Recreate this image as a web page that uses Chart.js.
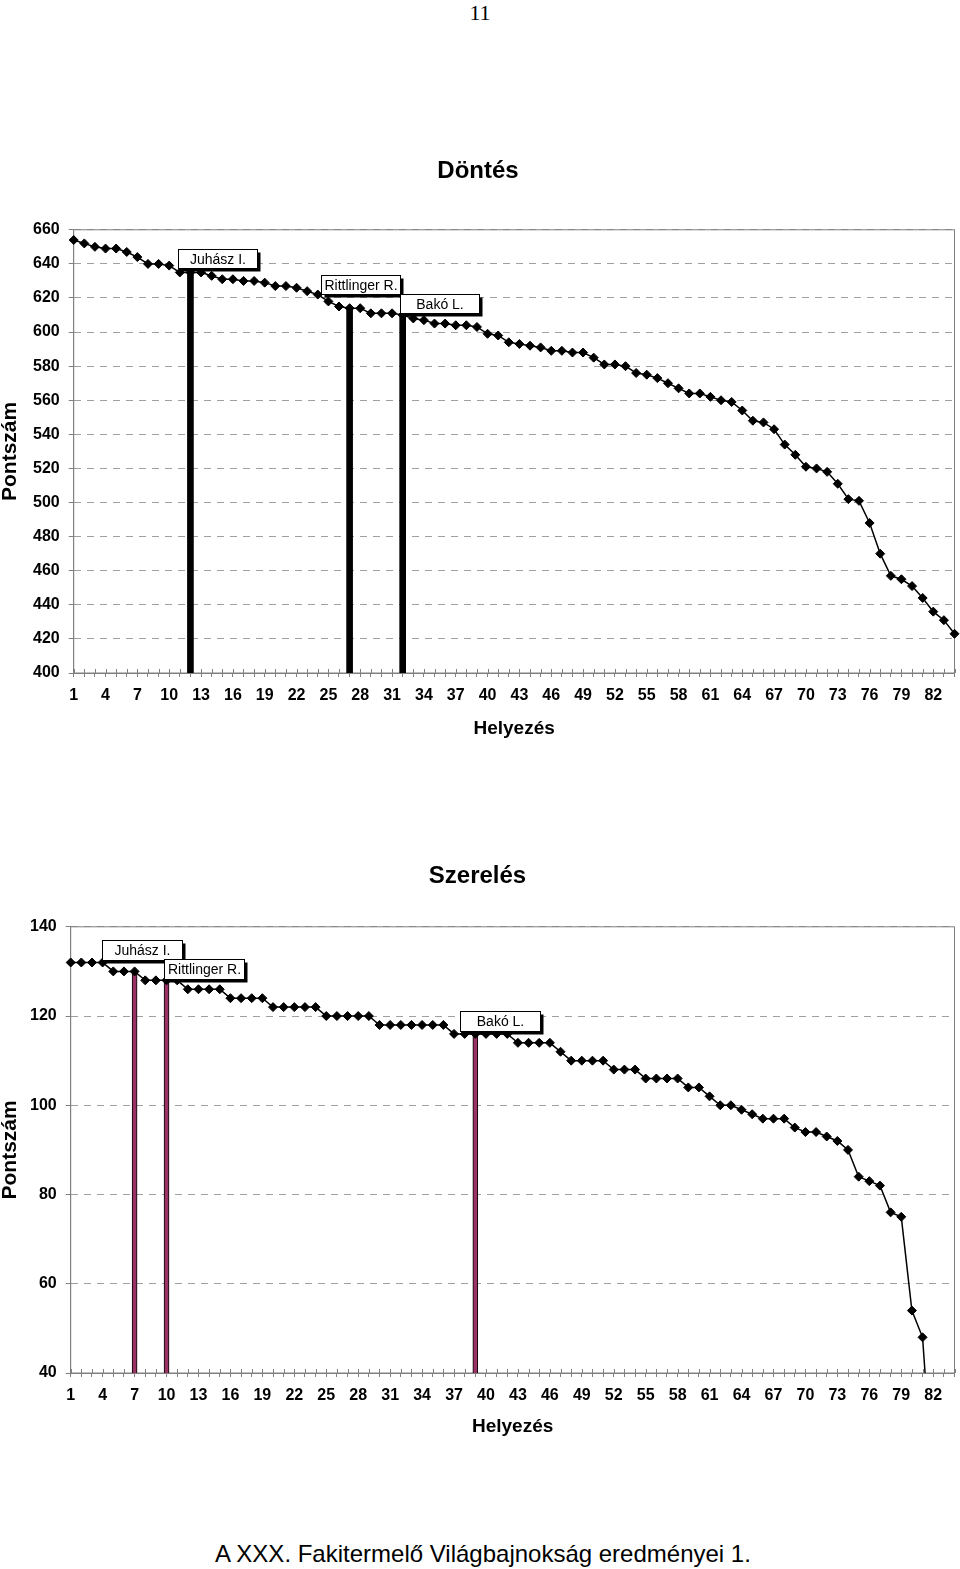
<!DOCTYPE html>
<html>
<head>
<meta charset="utf-8">
<title>Döntés / Szerelés</title>
<script src="https://cdn.jsdelivr.net/npm/chart.js@4.4.1/dist/chart.umd.min.js"></script>
<style>
    body { margin: 0; width: 960px; height: 1569px; background: #fff; position: relative; overflow: hidden; }
    .page-num { position: absolute; top: 2px; left: 0; width: 960px; text-align: center; font: 22px/22px "Liberation Serif", "Times New Roman", serif; }
    .box { position: absolute; left: 0; width: 960px; }
    #box1 { top: 140px; height: 610px; }
    #box2 { top: 845px; height: 605px; }
    .footer { position: absolute; top: 1542px; left: 215px; font: 24px/24px "Liberation Sans", Arial, sans-serif; white-space: nowrap; }
</style>
</head>
<body>
<div class="page-num">11</div>
<div class="box" id="box1"><canvas id="dontes"></canvas></div>
<div class="box" id="box2"><canvas id="szereles"></canvas></div>
<div class="footer">A XXX. Fakitermelő Világbajnokság eredményei 1.</div>

<script>
// helyezések (kategóriák)
const helyezes = ['1','2','3','4','5','6','7','8','9','10','11','12','13','14','15','16','17','18','19','20',
    '21','22','23','24','25','26','27','28','29','30','31','32','33','34','35','36','37','38','39','40',
    '41','42','43','44','45','46','47','48','49','50','51','52','53','54','55','56','57','58','59','60',
    '61','62','63','64','65','66','67','68','69','70','71','72','73','74','75','76','77','78','79','80',
    '81','82','83','84'];
// csak ezek a feliratok látszanak az x tengelyen
const xFeliratok = ['1','4','7','10','13','16','19','22','25','28','31','34','37','40','43','46','49','52','55','58','61','64','67','70','73','76','79','82'];

const dontesPont = [654, 652, 650, 649, 649, 647, 644, 640, 640, 639,
    635, 635, 635, 633, 631, 631, 630, 630, 629, 627,
    627, 626, 624, 622, 618, 615, 614, 614, 611, 611,
    611, 610, 608, 607, 605, 605, 604, 604, 603, 599,
    598, 594, 593, 592, 591, 589, 589, 588, 588, 585,
    581, 581, 580, 576, 575, 573, 570, 567, 564, 564,
    562, 560, 559, 554, 548, 547, 543, 534, 528, 521,
    520, 518, 511, 502, 501, 488, 470, 457, 455, 451,
    444, 436, 431, 423];

const szerelesPont = [132, 132, 132, 132, 130, 130, 130, 128, 128, 128,
    128, 126, 126, 126, 126, 124, 124, 124, 124, 122,
    122, 122, 122, 122, 120, 120, 120, 120, 120, 118,
    118, 118, 118, 118, 118, 118, 116, 116, 116, 116,
    116, 116, 114, 114, 114, 114, 112, 110, 110, 110,
    110, 108, 108, 108, 106, 106, 106, 106, 104, 104,
    102, 100, 100, 99, 98, 97, 97, 97, 95, 94,
    94, 93, 92, 90, 84, 83, 82, 76, 75, 54,
    48, 14, null, null];

const nevek = ['Juhász I.', 'Rittlinger R.', 'Bakó L.'];
const dontesHely = [12, 27, 32];
const szerelesHely = [7, 10, 39];

const yTickDontes = [400, 660, 20];   // min, max, lépés
const yTickSzereles = [40, 140, 20];

const FONT = "'Liberation Sans', Arial, sans-serif";
Chart.defaults.color = '#000';
Chart.defaults.font.family = FONT;

// oszlop adatok a kiemelt versenyzőkhöz
function oszlopok(pont, hely) {
    const arr = helyezes.map(() => null);
    hely.forEach(h => { arr[h - 1] = pont[h - 1]; });
    return arr;
}

// keret + kereszt osztásjelek az x tengelyen
const keretPlugin = {
    id: 'keret',
    beforeDatasetsDraw(chart) {
        const {ctx, chartArea: a} = chart;
        const xs = chart.scales.x;
        ctx.save();
        ctx.strokeStyle = '#808080';
        ctx.lineWidth = 1;
        ctx.strokeRect(a.left, a.top, a.right - a.left, a.bottom - a.top);
        ctx.beginPath();
        for (let i = 0; i < helyezes.length; i++) {
            const x = Math.round(xs.getPixelForTick(i)) + 0.5;
            ctx.moveTo(x, a.bottom - 4);
            ctx.lineTo(x, a.bottom);
        }
        ctx.stroke();
        ctx.restore();
    }
};

// név címkék dobozban, árnyékkal
const cimkePlugin = {
    id: 'cimkek',
    afterDatasetsDraw(chart, args, opts) {
        const {ctx} = chart;
        const meta = chart.getDatasetMeta(1);
        ctx.save();
        ctx.font = '14px ' + FONT;
        ctx.textAlign = 'center';
        ctx.textBaseline = 'middle';
        opts.hely.forEach((h, i) => {
            const el = meta.data[h - 1];
            const off = opts.eltolas[i];
            const w = opts.szel, hh = opts.mag;
            const x = Math.round(el.x + off[0]) + 0.5;
            const y = Math.round(el.y + off[1] - hh) + 0.5;
            ctx.fillStyle = '#000';
            ctx.fillRect(x + 3, y + 3, w, hh);
            ctx.fillStyle = '#fff';
            ctx.fillRect(x, y, w, hh);
            ctx.strokeStyle = '#000';
            ctx.lineWidth = 1;
            ctx.strokeRect(x, y, w, hh);
            ctx.fillStyle = '#000';
            ctx.fillText(opts.nevek[i], x + w / 2, y + hh / 2 + 1);
        });
        ctx.restore();
    }
};

function rajzol(id, cim, pont, hely, yTick, barSzin, barKeret, barVast, cimPad, layoutPad, yCimPad, xCimPad, cimkeOpts) {
    return new Chart(document.getElementById(id), {
        type: 'line',
        data: {
            labels: helyezes,
            datasets: [{
                data: pont,
                borderColor: '#000',
                borderWidth: 1.5,
                pointStyle: 'rectRot',
                pointRadius: 4.5,
                pointBackgroundColor: '#000',
                pointBorderColor: '#000',
                pointBorderWidth: 1,
                tension: 0,
                order: 0
            }, {
                type: 'bar',
                data: oszlopok(pont, hely),
                backgroundColor: barSzin,
                borderColor: barKeret,
                borderWidth: barKeret ? 1 : 0,
                barThickness: barVast,
                order: 1
            }]
        },
        options: {
            responsive: true,
            maintainAspectRatio: false,
            animation: false,
            layout: { padding: layoutPad },
            plugins: {
                legend: { display: false },
                tooltip: { enabled: false },
                title: {
                    display: true,
                    text: cim,
                    font: { size: 24, weight: 'bold' },
                    padding: cimPad
                },
                cimkek: cimkeOpts
            },
            scales: {
                x: {
                    type: 'category',
                    offset: false,
                    afterFit: s => { s.paddingRight = 0; },
                    grid: { offset: false, drawOnChartArea: false, tickLength: 4, color: '#808080' },
                    border: { color: '#808080' },
                    ticks: {
                        autoSkip: false,
                        maxRotation: 0,
                        padding: 9,
                        font: { size: 16, weight: 'bold' },
                        callback: (v, i) => xFeliratok.includes(helyezes[i]) ? helyezes[i] : ''
                    },
                    title: {
                        display: true,
                        text: 'Helyezés',
                        font: { size: 19, weight: 'bold' },
                        padding: xCimPad
                    }
                },
                y: {
                    min: yTick[0],
                    max: yTick[1],
                    grid: { color: '#a0a0a0', tickLength: 5, tickColor: '#808080' },
                    border: { color: '#808080', dash: [7, 6] },
                    ticks: {
                        stepSize: yTick[2],
                        padding: 9,
                        font: { size: 16, weight: 'bold' }
                    },
                    title: {
                        display: true,
                        text: 'Pontszám',
                        font: { size: 21, weight: 'bold', lineHeight: 1 },
                        padding: yCimPad
                    }
                }
            }
        },
        plugins: [keretPlugin, cimkePlugin]
    });
}

rajzol('dontes', 'Döntés', dontesPont, dontesHely, yTickDontes, '#000', null, 6,
    { top: 17, bottom: 44 }, { left: 0, right: 4, top: 0, bottom: 10 }, { top: 0, bottom: 3 }, { top: 3, bottom: 0 },
    { hely: dontesHely, nevek: nevek, szel: 79, mag: 19,
      eltolas: [[-12, -4], [-29, -14], [-3, -2]] });

rajzol('szereles', 'Szerelés', szerelesPont, szerelesHely, yTickSzereles, '#993366', '#000', 5,
    { top: 17, bottom: 36 }, { left: 0, right: 5, top: 0, bottom: 12 }, { top: 0, bottom: 0 }, { top: 1, bottom: 0 },
    { hely: szerelesHely, nevek: nevek, szel: 80, mag: 20,
      eltolas: [[-33, -11], [-3, -1], [-15, -3]] });
</script>
</body>
</html>
